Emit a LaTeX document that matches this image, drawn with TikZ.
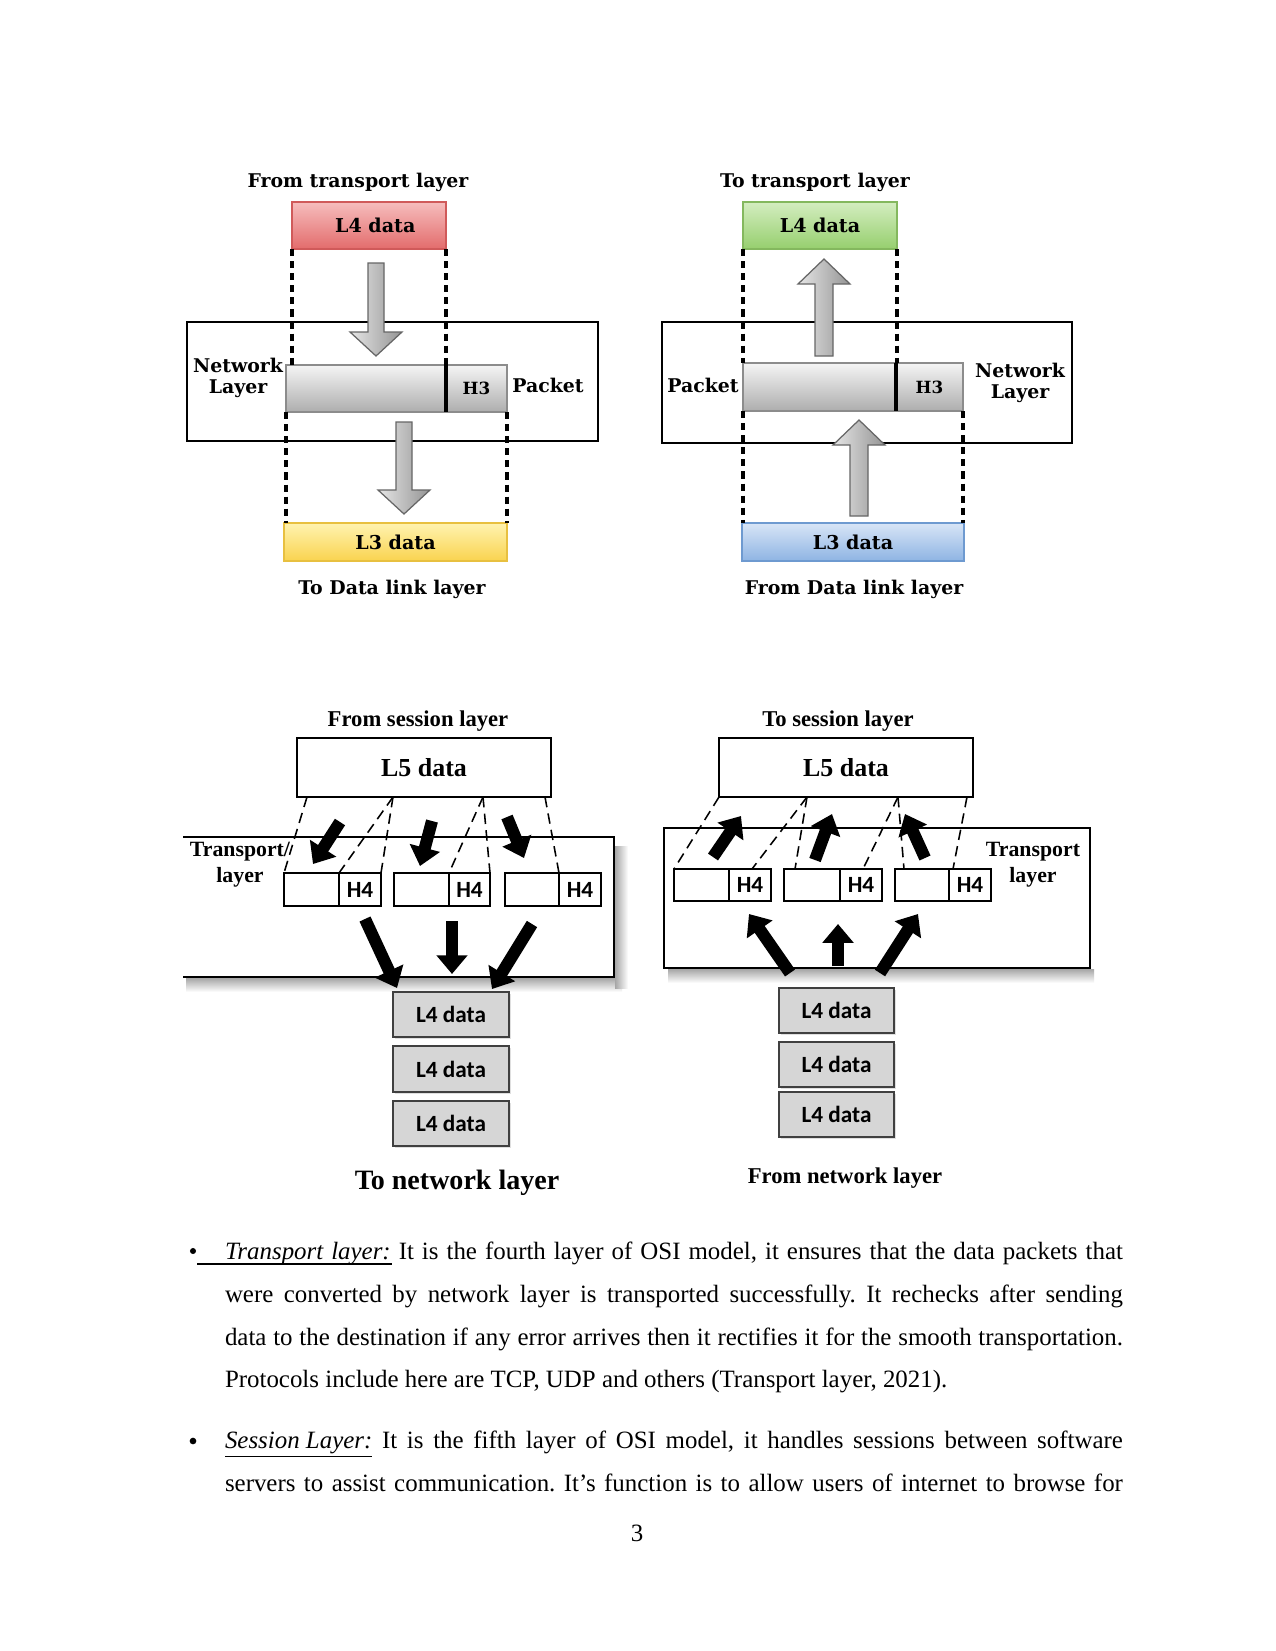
\documentclass[tikz,border=0pt]{standalone}
\usepackage{fontspec}
\setmainfont{Liberation Serif}
\newfontfamily\dvs{DejaVu Serif}
\newfontfamily\carl{Carlito}
\usetikzlibrary{arrows.meta,shadows}
\frenchspacing
\def\pxu{0.48bp}
\newcommand{\boxnode}[7]{\node[#2, minimum width={(#5-#3)*\pxu}, minimum height={(#6-#4)*\pxu}] (#1) at ({(#3+#5)/2},{(#4+#6)/2}) {#7};}
\definecolor{rtop}{HTML}{F6BDBD}\definecolor{rbot}{HTML}{E36C6C}\definecolor{rline}{HTML}{D05A5A}
\definecolor{gtop}{HTML}{D4EDC0}\definecolor{gbot}{HTML}{96CF6E}\definecolor{gline}{HTML}{84B85E}
\definecolor{btop}{HTML}{D8E5F6}\definecolor{bbot}{HTML}{8EB4E3}\definecolor{bline}{HTML}{6E9AD0}
\definecolor{ytop}{HTML}{FFF3B0}\definecolor{ybot}{HTML}{F9D34F}\definecolor{yline}{HTML}{E8C040}
\tikzset{
  every node/.style={inner sep=0pt, outer sep=0pt},
  toplab/.style={font=\dvs\bfseries\fontsize{9.1}{11.3}\selectfont, align=center},
  h3lab/.style={font=\dvs\bfseries\fontsize{8.1}{9}\selectfont},
  botlab/.style={font=\bfseries\fontsize{10.9}{12.5}\selectfont, align=center},
  redbox/.style={draw=rline, top color=rtop, bottom color=rbot, line width=0.6bp, font=\dvs\bfseries\fontsize{9.2}{10}\selectfont},
  greenbox/.style={draw=gline, top color=gtop, bottom color=gbot, line width=0.6bp, font=\dvs\bfseries\fontsize{9.2}{10}\selectfont},
  bluebox/.style={draw=bline, top color=btop, bottom color=bbot, line width=0.6bp, font=\dvs\bfseries\fontsize{9.2}{10}\selectfont},
  yellowbox/.style={draw=yline, top color=ytop, bottom color=ybot, line width=0.6bp, font=\dvs\bfseries\fontsize{9.2}{10}\selectfont},
  frame/.style={draw=black, line width=0.6bp},
  barpart/.style={draw=black!45, top color=black!4, bottom color=black!32, line width=0.6bp},
  garrow/.style={draw=black!60, line width=0.6bp, left color=black!10, right color=black!42},
  vdash/.style={line width=1.6bp, dash pattern=on 3.4bp off 2.4bp},
  sdash/.style={line width=0.75bp, dash pattern=on 5bp off 3bp},
  l5box/.style={draw=black, line width=0.8bp, fill=white, font=\bfseries\fontsize{12.5}{14}\selectfont},
  segbox/.style={draw=black, line width=0.8bp, fill=white, font=\carl\bfseries\fontsize{11.2}{13}\selectfont},
  l4box/.style={draw=black!75, line width=0.9bp, fill=black!16, font=\carl\bfseries\fontsize{11.2}{13}\selectfont, drop shadow={shadow xshift=1bp, shadow yshift=-1bp, opacity=0.25}},
  barrow/.style={line width=5.8bp, -{Triangle[length=9bp,width=14.5bp]}},
  body/.style={font=\fontsize{12}{14}\selectfont, anchor=base west},
  bulletdot/.style={circle, fill=black, minimum size=3.2bp},
}
\begin{document}
\begin{tikzpicture}[x=0.48bp, y=-0.48bp]
\path[use as bounding box, fill=white] (0,0) rectangle (1275,1651);

% ================= Diagram 1 (top left) =================
\node[toplab] (d1t) at (358,182) {From transport layer};
\boxnode{nb1}{frame}{187}{322}{598}{441}{}
\boxnode{l4r}{redbox}{292}{202}{446}{249}{\hspace*{6bp}L4 data}
\boxnode{p1d}{barpart}{286}{365}{446}{412}{}
\boxnode{p1h}{barpart}{446}{365}{507}{412}{}
\node[h3lab] (h31) at (p1h.center) {H3};
\draw[line width=1.5bp] (p1h.north west) -- (p1h.south west);
\draw[vdash] (l4r.south west) -- (l4r.south west |- p1d.north);
\draw[vdash] (l4r.south east) -- (l4r.south east |- p1d.north);
\boxnode{l3y}{yellowbox}{284}{523}{507}{561}{L3 data}
\draw[vdash] (p1d.south west) -- (p1d.south west |- l3y.north);
\draw[vdash] (p1h.south east) -- (p1h.south east |- l3y.north);
\shadedraw[garrow] (368,263) -- (384,263) -- (384,332) -- (402,332) -- (376,356) -- (350,332) -- (368,332) -- cycle;
\shadedraw[garrow] (396,422) -- (412,422) -- (412,490) -- (430,490) -- (404,514) -- (378,490) -- (396,490) -- cycle;
\node[toplab] (nl1) at (238,378) {Network\\[-1.5bp]Layer};
\node[toplab] (pk1) at (548,385) {Packet};
\node[toplab] (d1b) at (392,589) {To Data link layer};

% ================= Diagram 2 (top right) =================
\node[toplab] (d2t) at (815,182) {To transport layer};
\boxnode{nb2}{frame}{662}{322}{1072}{443}{}
\boxnode{l4g}{greenbox}{743}{202}{897}{249}{L4 data}
\boxnode{p2d}{barpart}{743}{363}{896}{411}{}
\boxnode{p2h}{barpart}{896}{363}{963}{411}{}
\node[h3lab] (h32) at (p2h.center) {H3};
\draw[line width=1.5bp] (p2h.north west) -- (p2h.south west);
\draw[vdash] (l4g.south west) -- (l4g.south west |- p2d.north);
\draw[vdash] (l4g.south east) -- (l4g.south east |- p2d.north);
\boxnode{l3b}{bluebox}{742}{523}{964}{561}{L3 data}
\draw[vdash] (p2d.south west) -- (p2d.south west |- l3b.north);
\draw[vdash] (p2h.south east) -- (p2h.south east |- l3b.north);
\shadedraw[garrow] (815,356) -- (833,356) -- (833,284) -- (850,284) -- (824,259) -- (798,284) -- (815,284) -- cycle;
\shadedraw[garrow] (850,516) -- (868,516) -- (868,445) -- (885,445) -- (859,420) -- (833,445) -- (850,445) -- cycle;
\node[toplab] (pk2) at (703,385) {Packet};
\node[toplab] (nl2) at (1020,383) {Network\\[-1.5bp]Layer};
\node[toplab] (d2b) at (854,589) {From Data link layer};

% ================= Diagram 3 (bottom left) =================
\node[botlab] (d3t) at (418,721) {From session layer};
\shade[top color=black!35, bottom color=white] (186,978) rectangle (622,992);
\shade[left color=black!35, right color=white] (615,846) rectangle (628,988);
\draw[frame, line width=0.8bp] (183,837) -- (614,837) -- (614,977) -- (183,977);
\node[botlab, font=\bfseries\fontsize{10.5}{12.5}\selectfont] (tl3) at (240,865) {Transport/\\layer};
\boxnode{l5a}{l5box}{297}{738}{551}{797}{L5 data}
\boxnode{s1d}{segbox}{284}{873}{339}{906}{}
\boxnode{s1h}{segbox}{339}{873}{381}{906}{H4}
\boxnode{s2d}{segbox}{394}{873}{449}{906}{}
\boxnode{s2h}{segbox}{449}{873}{490}{906}{H4}
\boxnode{s3d}{segbox}{505}{873}{559}{906}{}
\boxnode{s3h}{segbox}{559}{873}{601}{906}{H4}
\coordinate (a1) at (307,797);
\coordinate (a2) at (393,797);
\coordinate (a3) at (483,797);
\coordinate (a4) at (545,797);
\draw[sdash] (a1) -- (s1d.north west);
\draw[sdash] (a2) -- (s1h.north west);
\draw[sdash] (a2) -- (s1h.north east);
\draw[sdash] (a3) -- (s2h.north west);
\draw[sdash] (a3) -- (s2h.north east);
\draw[sdash] (a4) -- (s3h.north west);
\coordinate (u1s) at (340,822); \coordinate (u1e) at (313,864);
\coordinate (u2s) at (432,821); \coordinate (u2e) at (420,866);
\coordinate (u3s) at (507,817); \coordinate (u3e) at (524,858);
\draw[barrow] (u1s) -- (u1e);
\draw[barrow] (u2s) -- (u2e);
\draw[barrow] (u3s) -- (u3e);
\boxnode{k1}{l4box}{393}{992}{509}{1037}{L4 data}
\boxnode{k2}{l4box}{393}{1046}{509}{1092}{L4 data}
\boxnode{k3}{l4box}{393}{1101}{509}{1146}{L4 data}
\coordinate (w1s) at (365,919); \coordinate (w1e) at (397,988);
\coordinate (w2s) at (452,921); \coordinate (w2e) at (452,974);
\coordinate (w3s) at (532,924); \coordinate (w3e) at (492,989);
\draw[barrow] (w1s) -- (w1e);
\draw[barrow] (w2s) -- (w2e);
\draw[barrow] (w3s) -- (w3e);
\node[botlab, font=\bfseries\fontsize{13.5}{15}\selectfont] (d3b) at (457,1183) {To network layer};

% ================= Diagram 4 (bottom right) =================
\node[botlab] (d4t) at (838,721) {To session layer};
\shade[top color=black!35, bottom color=white] (668,969) rectangle (1094,983);
\boxnode{tb4}{frame, line width=0.8bp}{664}{828}{1090}{968}{}
\node[botlab, font=\bfseries\fontsize{10.5}{12.5}\selectfont] (tl4) at (1033,865) {Transport\\layer};
\boxnode{l5b}{l5box}{719}{738}{973}{797}{L5 data}
\boxnode{r1d}{segbox}{674}{869}{729}{901}{}
\boxnode{r1h}{segbox}{729}{869}{771}{901}{H4}
\boxnode{r2d}{segbox}{784}{869}{840}{901}{}
\boxnode{r2h}{segbox}{840}{869}{882}{901}{H4}
\boxnode{r3d}{segbox}{895}{869}{949}{901}{}
\boxnode{r3h}{segbox}{949}{869}{991}{901}{H4}
\coordinate (b1) at (719,797);
\coordinate (b2) at (807,797);
\coordinate (b3) at (898,797);
\coordinate (b4) at (967,797);
\draw[sdash] (b1) -- (r1d.north west);
\draw[sdash] (b2) -- (752,869);
\draw[sdash] (b2) -- (795,869);
\draw[sdash] (b3) -- (863,869);
\draw[sdash] (b3) -- (904,869);
\draw[sdash] (b4) -- (953,869);
\coordinate (v1s) at (713,857); \coordinate (v1e) at (741,816);
\coordinate (v2s) at (815,860); \coordinate (v2e) at (832,814);
\coordinate (v3s) at (925,858); \coordinate (v3e) at (905,814);
\draw[barrow] (v1s) -- (v1e);
\draw[barrow] (v2s) -- (v2e);
\draw[barrow] (v3s) -- (v3e);
\boxnode{m1}{l4box}{779}{988}{894}{1033}{L4 data}
\boxnode{m2}{l4box}{779}{1042}{894}{1087}{L4 data}
\boxnode{m3}{l4box}{779}{1092}{894}{1137}{L4 data}
\coordinate (x1s) at (790,973); \coordinate (x1e) at (749,914);
\coordinate (x2s) at (838,966); \coordinate (x2e) at (838,924);
\coordinate (x3s) at (880,973); \coordinate (x3e) at (918,914);
\draw[barrow] (x1s) -- (x1e);
\draw[barrow] (x2s) -- (x2e);
\draw[barrow] (x3s) -- (x3e);
\node[botlab] (d4b) at (845,1178) {From network layer};

% ================= Body text =================
\node[bulletdot, minimum size=2.9bp] (bul1) at (193,1251) {};
\draw[line width=0.6bp] (197,1264) -- (392,1264);
\node[body] (t1) at (225,1259) {\makebox[431bp][s]{\textit{Transport layer:} It is the fourth layer of OSI model, it ensures that the data packets that}};
\node[body] (t2) at (225,1302) {\makebox[431bp][s]{were converted by network layer is transported successfully. It rechecks after sending}};
\node[body] (t3) at (225,1345) {\makebox[431bp][s]{data to the destination if any error arrives then it rectifies it for the smooth transportation.}};
\node[body] (t4) at (225,1387) {Protocols include here are TCP, UDP and others (Transport layer, 2021).};
\node[bulletdot] (bul2) at (193,1441) {};
\node[body] (t5) at (225,1448) {\makebox[431bp][s]{\underline{\textit{Session Layer:}} It is the fifth layer of OSI model, it handles sessions between software}};
\node[body] (t6) at (225,1491) {\makebox[431bp][s]{servers to assist communication. It's function is to allow users of internet to browse for}};
\node[body, anchor=base] (pg) at (637,1541) {3};
\end{tikzpicture}
\end{document}
